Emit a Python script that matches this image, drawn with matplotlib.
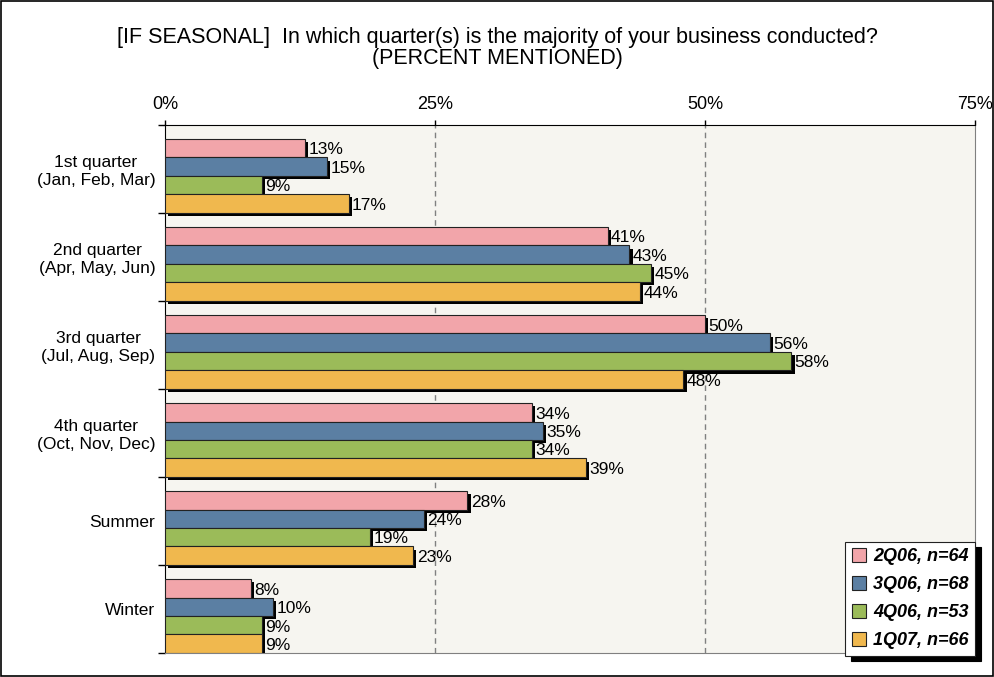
import numpy as np
import matplotlib.pyplot as plt
import matplotlib.patheffects as pe
from matplotlib.patches import Rectangle

plt.rcParams['font.family'] = ['Liberation Sans', 'DejaVu Sans']

categories = ["1st quarter\n(Jan, Feb, Mar)", "2nd quarter\n(Apr, May, Jun)",
              "3rd quarter\n(Jul, Aug, Sep)", "4th quarter\n(Oct, Nov, Dec)",
              "Summer", "Winter"]
series = ["2Q06, n=64", "3Q06, n=68", "4Q06, n=53", "1Q07, n=66"]
q2_06 = [13, 41, 50, 34, 28, 8]
q3_06 = [15, 43, 56, 35, 24, 10]
q4_06 = [9, 45, 58, 34, 19, 9]
q1_07 = [17, 44, 48, 39, 23, 9]
values = [q2_06, q3_06, q4_06, q1_07]
colors = ["#F2A5AA", "#5B7FA3", "#9BBB59", "#F0B84E"]

fig = plt.figure(figsize=(9.94, 6.77), dpi=100)
ax = fig.add_axes([0.166, 0.0355, 0.815, 0.78])
ax.set_facecolor("#F6F5F0")

shadow = [pe.SimplePatchShadow(offset=(2.2, -2.2), shadow_rgbFace="black", alpha=1.0), pe.Normal()]

bar_h = 0.21
start = 0.16
y0 = np.arange(len(categories))
for i, (vals, col, name) in enumerate(zip(values, colors, series)):
    ys = y0 + start + bar_h * (i + 0.5)
    bars = ax.barh(ys, vals, height=bar_h, color=col, edgecolor="#222222",
                   linewidth=0.8, label=name, zorder=3)
    for b in bars:
        b.set_path_effects(shadow)
    for y, v in zip(ys, vals):
        ax.text(v + 0.3, y + 0.02, f"{v}%", va="center", ha="left",
                fontsize=12.5, zorder=4)

ax.set_xlim(0, 75)
ax.set_ylim(len(categories), 0)

# dashed gridlines at 25% and 50%
for g in (25, 50):
    ax.axvline(g, color="#808080", linestyle=(0, (4, 3)), linewidth=1, zorder=1)

ax.xaxis.tick_top()
ax.set_xticks([0, 25, 50, 75])
ax.set_xticklabels(["0%", "25%", "50%", "75%"], fontsize=13)
ax.tick_params(axis="x", direction="out", length=3.5, pad=5, width=1)

ax.set_yticks(np.arange(len(categories)) + 0.5)
ax.set_yticklabels(categories, fontsize=12.5, multialignment="center")
ax.tick_params(axis="y", length=0, pad=7)
ax.set_yticks(np.arange(len(categories) + 1), minor=True)
ax.tick_params(axis="y", which="minor", length=5, direction="out", width=1)

ax.spines["top"].set_color("black")
ax.spines["left"].set_color("black")
ax.spines["right"].set_color("#808080")
ax.spines["bottom"].set_color("#808080")

leg = ax.legend(loc="lower right", bbox_to_anchor=(1.0, -0.005), frameon=True,
                fancybox=False, shadow={"color": "black", "alpha": 1.0, "ox": 4, "oy": -4},
                prop={"weight": "bold", "style": "italic", "size": 13},
                handlelength=0.8, handleheight=0.8, handletextpad=0.4,
                labelspacing=0.6, borderpad=0.35, borderaxespad=0)
leg.get_frame().set_edgecolor("#222222")
leg.get_frame().set_linewidth(0.8)
leg.set_zorder(6)
for h in leg.legend_handles:
    h.set_path_effects([])
    h.set_edgecolor("#222222")

fig.text(0.5, 0.929, "[IF SEASONAL]  In which quarter(s) is the majority of your business conducted?\n(PERCENT MENTIONED)",
         ha="center", va="center", fontsize=15.5, linespacing=1.05)

fig.patches.append(Rectangle((0.001, 0.001), 0.998, 0.998, transform=fig.transFigure,
                             fill=False, edgecolor="black", linewidth=1.2))

fig.savefig("out.png", dpi=100)
